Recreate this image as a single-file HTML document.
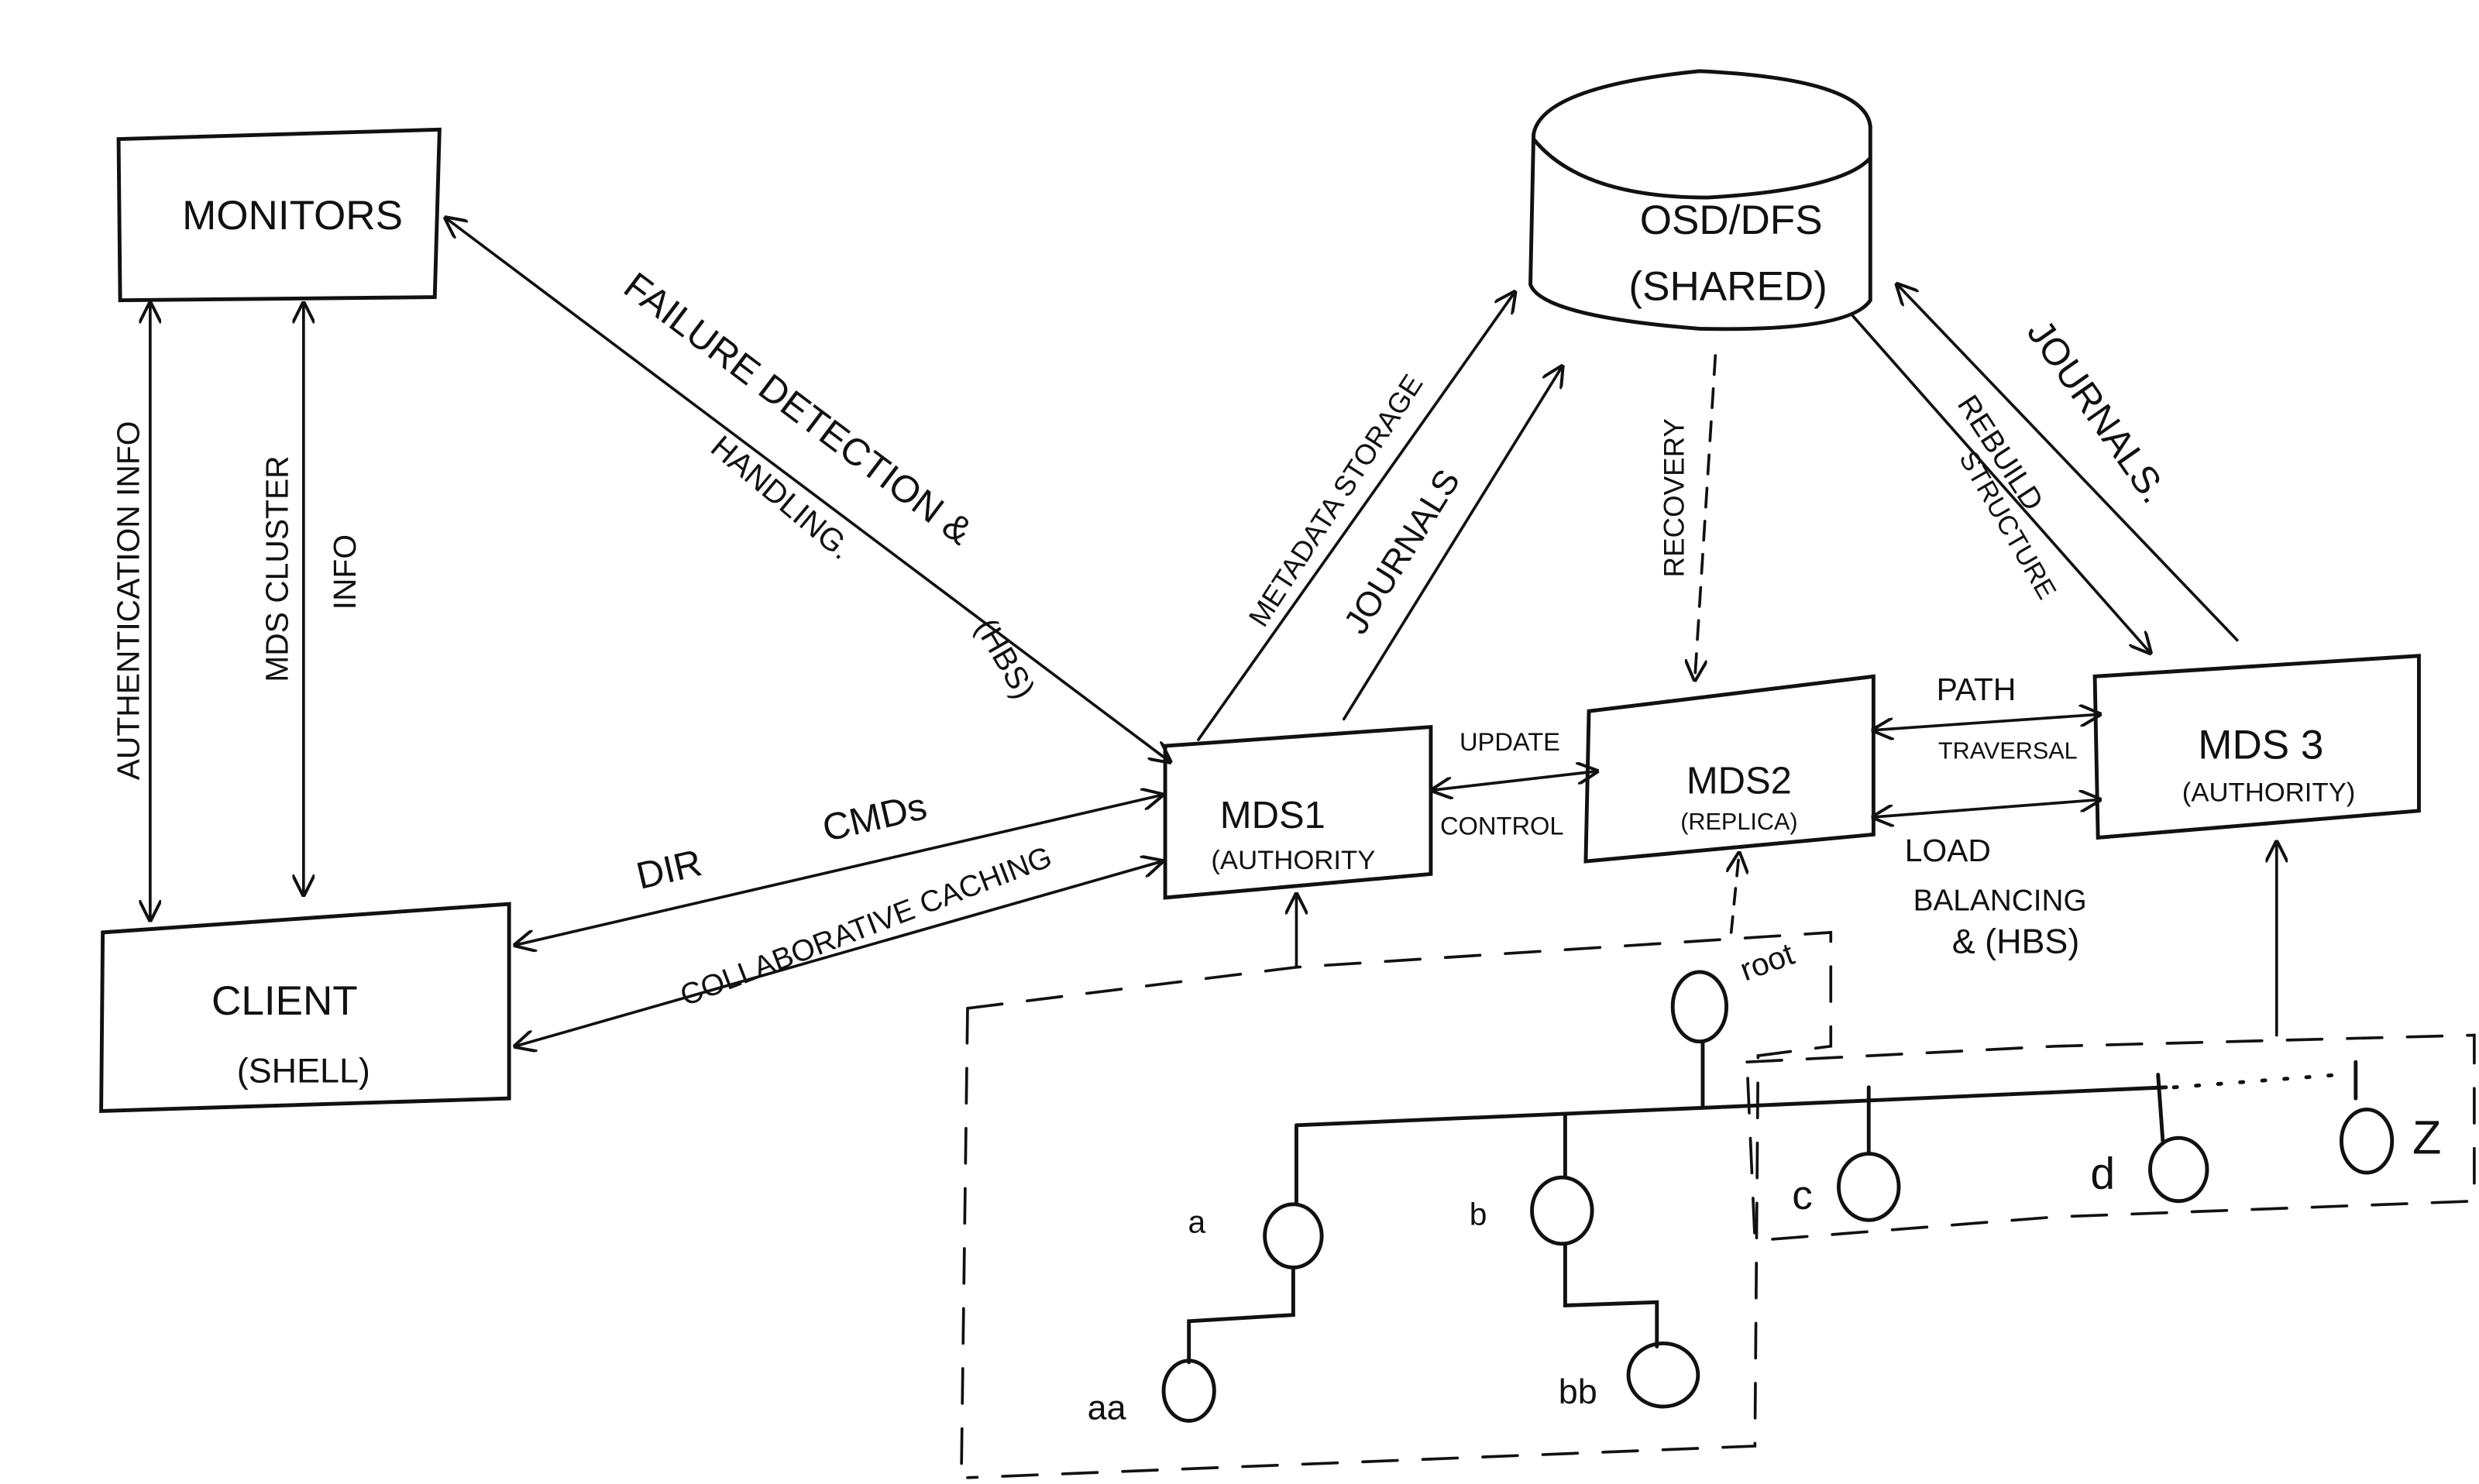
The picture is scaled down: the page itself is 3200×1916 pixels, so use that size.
<!DOCTYPE html>
<html><head><meta charset="utf-8"><style>
html,body{margin:0;padding:0;background:#fff;}
svg{display:block;}
text{font-family:"Liberation Sans",sans-serif;fill:#111;}
</style></head><body>
<svg width="3200" height="1916" viewBox="0 0 1568 939" preserveAspectRatio="none" xmlns="http://www.w3.org/2000/svg">
<defs>
<marker id="a" viewBox="0 0 10 10" refX="9" refY="5" markerWidth="9" markerHeight="9" orient="auto-start-reverse" markerUnits="userSpaceOnUse"><path d="M0,0 L10,5 L0,10" fill="none" stroke="#111" stroke-width="1.6"/></marker>
<marker id="b" viewBox="0 0 10 10" refX="9" refY="5" markerWidth="14" markerHeight="14" orient="auto-start-reverse" markerUnits="userSpaceOnUse"><path d="M0,0 L10,5 L0,10" fill="none" stroke="#111" stroke-width="1.4"/></marker>
</defs>
<g fill="none" stroke="#111" stroke-width="2.4" stroke-linecap="round">
<!-- boxes -->
<path d="M75,88 L278,82 L275,188 L76,190 Z"/>
<path d="M65,590 L322,572 L322,695 L64,703 Z"/>
<path d="M737,472 L905,460 L905,553 L737,568 Z"/>
<path d="M1005,450 L1185,428 L1185,528 L1003,545 Z"/>
<path d="M1325,428 L1530,415 L1530,513 L1327,530 Z"/>
<!-- cylinder -->
<path d="M970,85 Q975,55 1075,45 Q1180,50 1183,80 L1183,190 Q1170,210 1075,208 Q975,200 968,180 Z"/>
<path d="M970,88 Q1000,125 1080,125 Q1165,120 1183,100"/>
<!-- arrows -->
<g stroke-width="1.8">
<line x1="95" y1="192" x2="95" y2="582" marker-start="url(#b)" marker-end="url(#b)"/>
<line x1="192" y1="192" x2="192" y2="566" marker-start="url(#b)" marker-end="url(#b)"/>
<line x1="282" y1="138" x2="740" y2="482" marker-start="url(#b)" marker-end="url(#b)"/>
<line x1="326" y1="598" x2="735" y2="503" marker-start="url(#b)" marker-end="url(#b)"/>
<line x1="326" y1="662" x2="735" y2="545" marker-start="url(#b)" marker-end="url(#b)"/>
<line x1="758" y1="468" x2="958" y2="185" marker-end="url(#b)"/>
<line x1="850" y1="455" x2="988" y2="232" marker-end="url(#b)"/>
<line x1="1085" y1="225" x2="1072" y2="430" stroke-dasharray="12,9" marker-end="url(#b)"/>
<line x1="1172" y1="200" x2="1360" y2="413" marker-end="url(#b)"/>
<line x1="1415" y1="405" x2="1200" y2="180" marker-end="url(#b)"/>
<line x1="906" y1="500" x2="1010" y2="488" marker-start="url(#b)" marker-end="url(#b)"/>
<line x1="1185" y1="462" x2="1328" y2="452" marker-start="url(#b)" marker-end="url(#b)"/>
<line x1="1185" y1="517" x2="1328" y2="506" marker-start="url(#b)" marker-end="url(#b)"/>
<line x1="820" y1="612" x2="820" y2="566" marker-end="url(#b)"/>
<line x1="1440" y1="655" x2="1440" y2="533" marker-end="url(#b)"/>
<line x1="1095" y1="590" x2="1100" y2="540" stroke-dasharray="10,8" marker-end="url(#b)"/>
</g>
<!-- dashed regions -->
<g stroke-width="1.8" stroke-dasharray="22,16">
<path d="M612,638 L820,612 L1158,590 L1158,662 L1112,668 L1110,915 L612,935"/>
<path d="M612,638 L608,939"/>
<path d="M1105,672 L1300,662 L1565,655 L1565,760 L1300,770 L1110,785 L1105,672"/>
</g>
<!-- tree -->
<path d="M820,712 L1100,700 L1370,688" />
<path d="M1375,688 L1480,680" stroke-dasharray="2,12"/>
<ellipse cx="1075" cy="637" rx="17" ry="22"/>
<line x1="1077" y1="659" x2="1077" y2="700"/>
<line x1="820" y1="712" x2="820" y2="762"/>
<ellipse cx="818" cy="782" rx="18" ry="20"/>
<line x1="990" y1="705" x2="990" y2="745"/>
<ellipse cx="988" cy="766" rx="19" ry="21"/>
<line x1="1182" y1="688" x2="1182" y2="730"/>
<ellipse cx="1182" cy="751" rx="19" ry="21"/>
<line x1="1365" y1="680" x2="1368" y2="722"/>
<ellipse cx="1378" cy="740" rx="18" ry="20"/>
<line x1="1490" y1="672" x2="1490" y2="695"/>
<ellipse cx="1497" cy="722" rx="16" ry="20"/>
<path d="M818,802 L818,832 L752,836 L752,862"/>
<ellipse cx="752" cy="880" rx="16" ry="19"/>
<path d="M990,787 L990,826 L1048,824 L1048,852"/>
<ellipse cx="1052" cy="870" rx="22" ry="20"/>
</g>
<!-- labels -->
<g font-size="26">
<text x="185" y="145" text-anchor="middle">MONITORS</text>
<text x="180" y="642" text-anchor="middle">CLIENT</text>
<text x="192" y="685" text-anchor="middle" font-size="22">(SHELL)</text>
<text x="1095" y="148" text-anchor="middle">OSD/DFS</text>
<text x="1093" y="190" text-anchor="middle">(SHARED)</text>
<text x="805" y="524" text-anchor="middle" font-size="24">MDS1</text>
<text x="818" y="550" text-anchor="middle" font-size="17">(AUTHORITY</text>
<text x="1100" y="502" text-anchor="middle" font-size="24">MDS2</text>
<text x="1100" y="525" text-anchor="middle" font-size="15">(REPLICA)</text>
<text x="1430" y="480" text-anchor="middle" font-size="26">MDS 3</text>
<text x="1435" y="507" text-anchor="middle" font-size="17">(AUTHORITY)</text>
</g>
<g font-size="20">
<text transform="translate(88,380) rotate(-90)" text-anchor="middle">AUTHENTICATION INFO</text>
<text transform="translate(182,360) rotate(-90)" text-anchor="middle">MDS CLUSTER</text>
<text transform="translate(225,362) rotate(-90)" text-anchor="middle">INFO</text>
<text transform="translate(500,265) rotate(37)" text-anchor="middle" font-size="24">FAILURE DETECTION &amp;</text>
<text transform="translate(490,320) rotate(40)" text-anchor="middle">HANDLING.</text>
<text transform="translate(630,420) rotate(60)" text-anchor="middle">(HBS)</text>
<text transform="translate(425,558) rotate(-13)" text-anchor="middle" font-size="24">DIR</text>
<text transform="translate(555,525) rotate(-13)" text-anchor="middle" font-size="24">CMDs</text>
<text transform="translate(550,592) rotate(-21)" text-anchor="middle" font-size="19">COLLABORATIVE CACHING</text>
<text transform="translate(850,320) rotate(-57)" text-anchor="middle" font-size="18">METADATA STORAGE</text>
<text transform="translate(893,353) rotate(-58)" text-anchor="middle" font-size="22">JOURNALS</text>
<text transform="translate(1065,315) rotate(-90)" text-anchor="middle" font-size="18">RECOVERY</text>
<text transform="translate(1260,290) rotate(57)" text-anchor="middle" font-size="19">REBUILD</text>
<text transform="translate(1265,335) rotate(60)" text-anchor="middle" font-size="17">STRUCTURE</text>
<text transform="translate(1320,265) rotate(55)" text-anchor="middle" font-size="24">JOURNALS.</text>
<text x="955" y="475" text-anchor="middle" font-size="16">UPDATE</text>
<text x="950" y="528" text-anchor="middle" font-size="16">CONTROL</text>
<text x="1250" y="443" text-anchor="middle">PATH</text>
<text x="1270" y="480" text-anchor="middle" font-size="15">TRAVERSAL</text>
<text x="1232" y="545" text-anchor="middle">LOAD</text>
<text x="1265" y="576" text-anchor="middle" font-size="19">BALANCING</text>
<text x="1275" y="603" text-anchor="middle" font-size="22">&amp; (HBS)</text>
<text transform="translate(1120,615) rotate(-20)" text-anchor="middle">root</text>
<text x="757" y="780" text-anchor="middle">a</text>
<text x="935" y="775" text-anchor="middle">b</text>
<text x="1140" y="765" text-anchor="middle" font-size="26">c</text>
<text x="1330" y="752" text-anchor="middle" font-size="28">d</text>
<text x="1535" y="730" text-anchor="middle" font-size="30">Z</text>
<text x="700" y="898" text-anchor="middle" font-size="22">aa</text>
<text x="998" y="888" text-anchor="middle" font-size="22">bb</text>
</g>
</svg>
</body></html>
